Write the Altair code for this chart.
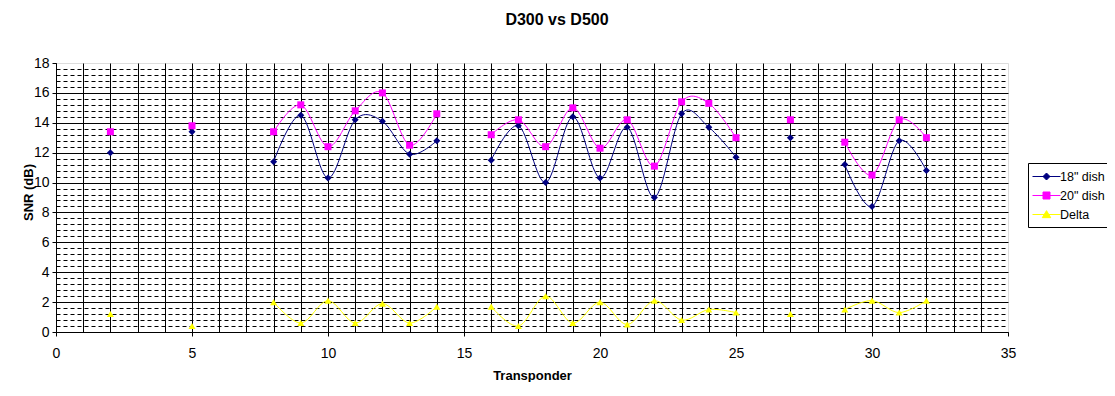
import altair as alt
import pandas as pd

transponder = [2, 5, 8, 9, 10, 11, 12, 13, 14, 16, 17, 18, 19, 20, 21, 22, 23, 24, 25, 27, 29, 30, 31, 32]
dish18 = [12.0, 13.4, 11.4, 14.5, 10.3, 14.2, 14.1, 11.9, 12.8, 11.5, 13.8, 10.0, 14.4, 10.3, 13.7, 9.0, 14.6, 13.7, 11.7, 13.0, 11.2, 8.4, 12.8, 10.8]
dish20 = [13.4, 13.8, 13.4, 15.2, 12.4, 14.8, 16.0, 12.5, 14.6, 13.2, 14.2, 12.4, 15.0, 12.3, 14.2, 11.1, 15.4, 15.3, 13.0, 14.2, 12.7, 10.5, 14.2, 13.0]
delta = [1.2, 0.4, 2.0, 0.6, 2.1, 0.6, 1.9, 0.6, 1.7, 1.7, 0.4, 2.4, 0.6, 2.0, 0.5, 2.1, 0.8, 1.5, 1.3, 1.2, 1.5, 2.1, 1.3, 2.1]

series_names = ['18" dish', '20" dish', 'Delta']
series_colors = ["#000080", "#FF00FF", "#FFFF00"]
marker_shapes = ["diamond", "square", "triangle-up"]
legend_shapes = [
    "M-2,0H2M0,-0.5L0.5,0L0,0.5L-0.5,0Z",
    "M-2,0H2M-0.5,-0.5H0.5V0.5H-0.5Z",
    "M-2,0H2M0,-0.55L0.6,0.45L-0.6,0.45Z",
]
x_grid_values = list(range(0, 36))
y_grid_values = [round(i * 0.4, 1) for i in range(46)]

rows = []
for name, vals in zip(series_names, [dish18, dish20, delta]):
    seg = 0
    prev = None
    for x, v in zip(transponder, vals):
        if prev is not None and x - prev > 1:
            seg += 1
        rows.append({"Transponder": x, "SNR": v, "series": name, "series_l": name, "seg": f"{name}-{seg}"})
        prev = x
df = pd.DataFrame(rows)

FONT = "Liberation Sans"

x_enc = alt.X(
    "Transponder:Q",
    scale=alt.Scale(domain=[0, 35], nice=False, zero=False),
    axis=alt.Axis(
        values=x_grid_values,
        grid=True,
        gridColor="black",
        gridWidth=1,
        gridOpacity={"condition": {"test": "datum.value >= 35", "value": 0}, "value": 1},
        tickOpacity={"condition": {"test": "datum.value % 5 === 0", "value": 1}, "value": 0},
        labelExpr="datum.value % 5 === 0 ? datum.label : ''",
        labelOverlap=False,
        labelFlush=False,
        tickSize=4,
        tickColor="black",
        domainColor="black",
        labelFont=FONT,
        labelFontSize=14,
        labelColor="black",
        labelPadding=10,
        title="Transponder",
        titleFont=FONT,
        titleFontSize=13,
        titleFontWeight="bold",
        titleColor="black",
        titleBaseline="alphabetic",
        titleY=47,
    ),
)

major_test = "abs(datum.value % 2) < 0.001"
y_enc = alt.Y(
    "SNR:Q",
    scale=alt.Scale(domain=[0, 18], nice=False, zero=False),
    axis=alt.Axis(
        values=y_grid_values,
        format=".0f",
        grid=True,
        gridColor="black",
        gridWidth=1,
        gridDash={"condition": {"test": major_test, "value": []}, "value": [4, 3]},
        gridOpacity={"condition": {"test": "datum.value >= 18", "value": 0}, "value": 1},
        tickOpacity={"condition": {"test": major_test, "value": 1}, "value": 0},
        labelExpr=f"{major_test} ? datum.label : ''",
        labelOverlap=False,
        labelFlush=False,
        tickSize=4,
        tickColor="black",
        domainColor="black",
        labelFont=FONT,
        labelFontSize=14,
        labelColor="black",
        labelPadding=3,
        title="SNR (dB)",
        titleFont=FONT,
        titleFontSize=13,
        titleFontWeight="bold",
        titleColor="black",
        titleBaseline="alphabetic",
        titleAlign="center",
        titleX=-24,
        titleY=129,
    ),
)

color_scale = alt.Scale(domain=series_names, range=series_colors)

legend = alt.Legend(
    title=None,
    orient="none",
    legendX=972,
    legendY=100,
    symbolSize=196,
    symbolStrokeWidth=1,
    symbolOffset=5,
    labelOffset=6,
    labelFont=FONT,
    labelFontSize=12.5,
    labelColor="black",
    rowPadding=5,
    padding=6,
    strokeColor="black",
    fillColor="white",
    cornerRadius=0,
    symbolOpacity=1,
)

base = alt.Chart(df)

lines = base.mark_line(interpolate="cardinal", strokeWidth=1).encode(
    x=x_enc, y=y_enc,
    color=alt.Color("series:N", scale=color_scale, legend=None),
    detail="seg:N",
)

points = base.mark_point(filled=True, size=49, opacity=1).encode(
    x=x_enc,
    y=y_enc,
    color=alt.Color("series:N", scale=color_scale, legend=None),
    shape=alt.Shape("series:N", scale=alt.Scale(domain=series_names, range=marker_shapes), legend=None),
)

legend_layer = base.transform_filter("false").mark_point(filled=True).encode(
    x=x_enc,
    y=y_enc,
    color=alt.Color("series_l:N", scale=color_scale, legend=legend),
    stroke=alt.Stroke("series_l:N", scale=color_scale, legend=legend),
    shape=alt.Shape("series_l:N", scale=alt.Scale(domain=series_names, range=legend_shapes), legend=legend),
)

chart = (
    alt.layer(lines, points, legend_layer)
    .resolve_scale(color="independent", shape="independent", stroke="independent")
    .properties(
        width=952,
        height=269,
        title=alt.TitleParams(
            "D300 vs D500",
            font=FONT,
            fontSize=16,
            fontWeight="bold",
            color="black",
            anchor="middle",
            offset=28,
            dx=25,
        ),
        autosize=alt.AutoSizeParams(type="none"),
        padding={"left": 48, "top": 55, "right": 99, "bottom": 50},
    )
    .configure_view(fill="#C0C0C0", stroke="#808080", strokeWidth=1)
    .configure(background="white")
)

chart.save("out.html", embed_options={"renderer": "svg", "actions": False})
